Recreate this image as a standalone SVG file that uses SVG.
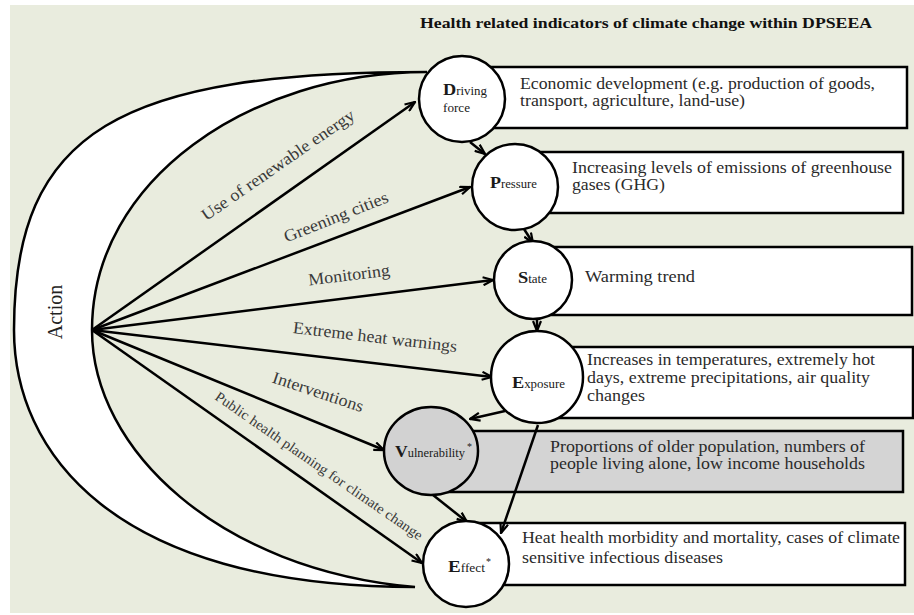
<svg xmlns="http://www.w3.org/2000/svg" width="914" height="615" viewBox="0 0 914 615">
<style>
  .bg{fill:#e9ecde}
  .ln{fill:none;stroke:#000;stroke-width:2.5}
  .box{fill:#fff;stroke:#000;stroke-width:2.5}
  .gbox{fill:#d4d4d4;stroke:#000;stroke-width:2.5}
  .node{fill:#fff;stroke:#000;stroke-width:2.5}
  .gnode{fill:#d2d2d2;stroke:#000;stroke-width:2.5}
  .t{font-family:"Liberation Serif","DejaVu Serif",serif;fill:#2a2a2a;font-size:16px}
  .lbl{font-family:"Liberation Serif","DejaVu Serif",serif;fill:#3a3a3a;font-size:17px}
  .nl{font-family:"Liberation Serif","DejaVu Serif",serif;fill:#1a1a1a}
  .big{font-size:17px;font-weight:bold}
  .sm{font-size:12px}
  .title{font-family:"Liberation Serif","DejaVu Serif",serif;font-weight:bold;font-size:15px;fill:#111}
</style>
<defs>
  <marker id="ah" viewBox="0 0 12 10" refX="11" refY="5" markerWidth="12" markerHeight="10" markerUnits="userSpaceOnUse" orient="auto">
    <path d="M1,1 L11,5 L1,9" fill="none" stroke="#000" stroke-width="2.2"/>
  </marker>
</defs>
<rect class="bg" x="10" y="5" width="904" height="608"/>
<text class="title" x="420" y="28" textLength="452" lengthAdjust="spacingAndGlyphs">Health related indicators of climate change within DPSEEA</text>

<g id="action">
  <path class="node" d="M427,72 C120,72 14,130 14,330 C14,450 110,587 415,587 C220,570 92,450 92,330 C92,180 250,72 427,72 Z"/>
  <text class="lbl" style="fill:#222;font-size:20px" transform="translate(55,312) rotate(-90)" text-anchor="middle" dominant-baseline="central">Action</text>
</g>

<g id="boxes">
  <rect class="box" x="470" y="67" width="437" height="61"/>
  <rect class="box" x="520" y="152" width="383" height="61"/>
  <rect class="box" x="540" y="247" width="372" height="68"/>
  <rect class="box" x="540" y="347" width="373" height="71"/>
  <rect class="gbox" x="440" y="431" width="463" height="61"/>
  <rect class="box" x="470" y="523" width="435" height="62"/>
  <text class="t" x="520" y="89" textLength="355" lengthAdjust="spacingAndGlyphs">Economic development (e.g. production of goods,</text>
  <text class="t" x="520" y="106" textLength="225" lengthAdjust="spacingAndGlyphs">transport, agriculture, land-use)</text>
  <text class="t" x="572" y="173" textLength="320" lengthAdjust="spacingAndGlyphs">Increasing levels of emissions of greenhouse</text>
  <text class="t" x="572" y="190" textLength="93" lengthAdjust="spacingAndGlyphs">gases (GHG)</text>
  <text class="t" x="585" y="282" textLength="110" lengthAdjust="spacingAndGlyphs">Warming trend</text>
  <text class="t" x="587" y="365" textLength="288" lengthAdjust="spacingAndGlyphs">Increases in temperatures, extremely hot</text>
  <text class="t" x="587" y="383" textLength="283" lengthAdjust="spacingAndGlyphs">days, extreme precipitations, air quality</text>
  <text class="t" x="587" y="401" textLength="58" lengthAdjust="spacingAndGlyphs">changes</text>
  <text class="t" x="550" y="452" textLength="315" lengthAdjust="spacingAndGlyphs">Proportions of older population, numbers of</text>
  <text class="t" x="550" y="469" textLength="315" lengthAdjust="spacingAndGlyphs">people living alone, low income households</text>
  <text class="t" x="522" y="543" textLength="378" lengthAdjust="spacingAndGlyphs">Heat health morbidity and mortality, cases of climate</text>
  <text class="t" x="522" y="563" textLength="201" lengthAdjust="spacingAndGlyphs">sensitive infectious diseases</text>
</g>

<g id="connectors">
  <line class="ln" x1="92" y1="330" x2="415" y2="102" marker-end="url(#ah)"/>
  <line class="ln" x1="92" y1="330" x2="470" y2="187" marker-end="url(#ah)"/>
  <line class="ln" x1="92" y1="330" x2="493" y2="280" marker-end="url(#ah)"/>
  <line class="ln" x1="92" y1="330" x2="492" y2="377" marker-end="url(#ah)"/>
  <line class="ln" x1="92" y1="330" x2="384" y2="450" marker-end="url(#ah)"/>
  <line class="ln" x1="92" y1="330" x2="422" y2="563" marker-end="url(#ah)"/>
  <line class="ln" x1="470" y1="142" x2="485" y2="154" marker-end="url(#ah)"/>
  <line class="ln" x1="524" y1="229" x2="533" y2="243" marker-end="url(#ah)"/>
  <line class="ln" x1="537" y1="318" x2="537" y2="331" marker-end="url(#ah)"/>
  <line class="ln" x1="505" y1="411" x2="470" y2="419" marker-end="url(#ah)"/>
  <line class="ln" x1="538" y1="425" x2="501" y2="533" marker-end="url(#ah)"/>
  <line class="ln" x1="433" y1="495" x2="467" y2="522" marker-end="url(#ah)"/>
</g>

<g id="ray-labels">
  <text class="lbl" transform="translate(278,165) rotate(-34.7)" text-anchor="middle" dominant-baseline="central" textLength="182" lengthAdjust="spacingAndGlyphs">Use of renewable energy</text>
  <text class="lbl" transform="translate(336,217) rotate(-21.7)" text-anchor="middle" dominant-baseline="central" textLength="111" lengthAdjust="spacingAndGlyphs">Greening cities</text>
  <text class="lbl" transform="translate(349,275) rotate(-7)" text-anchor="middle" dominant-baseline="central" textLength="82" lengthAdjust="spacingAndGlyphs">Monitoring</text>
  <text class="lbl" transform="translate(375,337) rotate(6.6)" text-anchor="middle" dominant-baseline="central" textLength="165" lengthAdjust="spacingAndGlyphs">Extreme heat warnings</text>
  <text class="lbl" transform="translate(318,392) rotate(18.4)" text-anchor="middle" dominant-baseline="central" textLength="95" lengthAdjust="spacingAndGlyphs">Interventions</text>
  <text class="lbl" style="font-size:14px" transform="translate(319,466) rotate(34.7)" text-anchor="middle" dominant-baseline="central" textLength="249" lengthAdjust="spacingAndGlyphs">Public health planning for climate change</text>
</g>

<g id="node-driving">
  <circle class="node" cx="462" cy="99" r="43"/>
  <text class="nl" x="443" y="95" textLength="44" lengthAdjust="spacingAndGlyphs"><tspan class="big">D</tspan><tspan class="sm">riving</tspan></text>
  <text class="nl sm" x="443" y="112" textLength="27" lengthAdjust="spacingAndGlyphs">force</text>
</g>
<g id="node-pressure">
  <circle class="node" cx="515" cy="187" r="43"/>
  <text class="nl" x="490" y="188" textLength="47" lengthAdjust="spacingAndGlyphs"><tspan class="big">P</tspan><tspan class="sm">ressure</tspan></text>
</g>
<g id="node-state">
  <circle class="node" cx="533" cy="280" r="39"/>
  <text class="nl" x="518" y="283" textLength="29" lengthAdjust="spacingAndGlyphs"><tspan class="big">S</tspan><tspan class="sm">tate</tspan></text>
</g>
<g id="node-exposure">
  <circle class="node" cx="537" cy="377" r="46"/>
  <text class="nl" x="512" y="388" textLength="53" lengthAdjust="spacingAndGlyphs"><tspan class="big">E</tspan><tspan class="sm">xposure</tspan></text>
</g>
<g id="node-vulnerability">
  <ellipse class="gnode" cx="431" cy="451" rx="47" ry="44"/>
  <text class="nl" x="395" y="457" textLength="70" lengthAdjust="spacingAndGlyphs"><tspan class="big">V</tspan><tspan class="sm">ulnerability</tspan></text>
  <text class="nl" x="467" y="450" style="font-size:10px">*</text>
</g>
<g id="node-effect">
  <circle class="node" cx="466" cy="564" r="43"/>
  <text class="nl" x="448" y="572" textLength="37" lengthAdjust="spacingAndGlyphs"><tspan class="big">E</tspan><tspan class="sm">ffect</tspan></text>
  <text class="nl" x="486" y="565" style="font-size:10px">*</text>
</g>
</svg>
